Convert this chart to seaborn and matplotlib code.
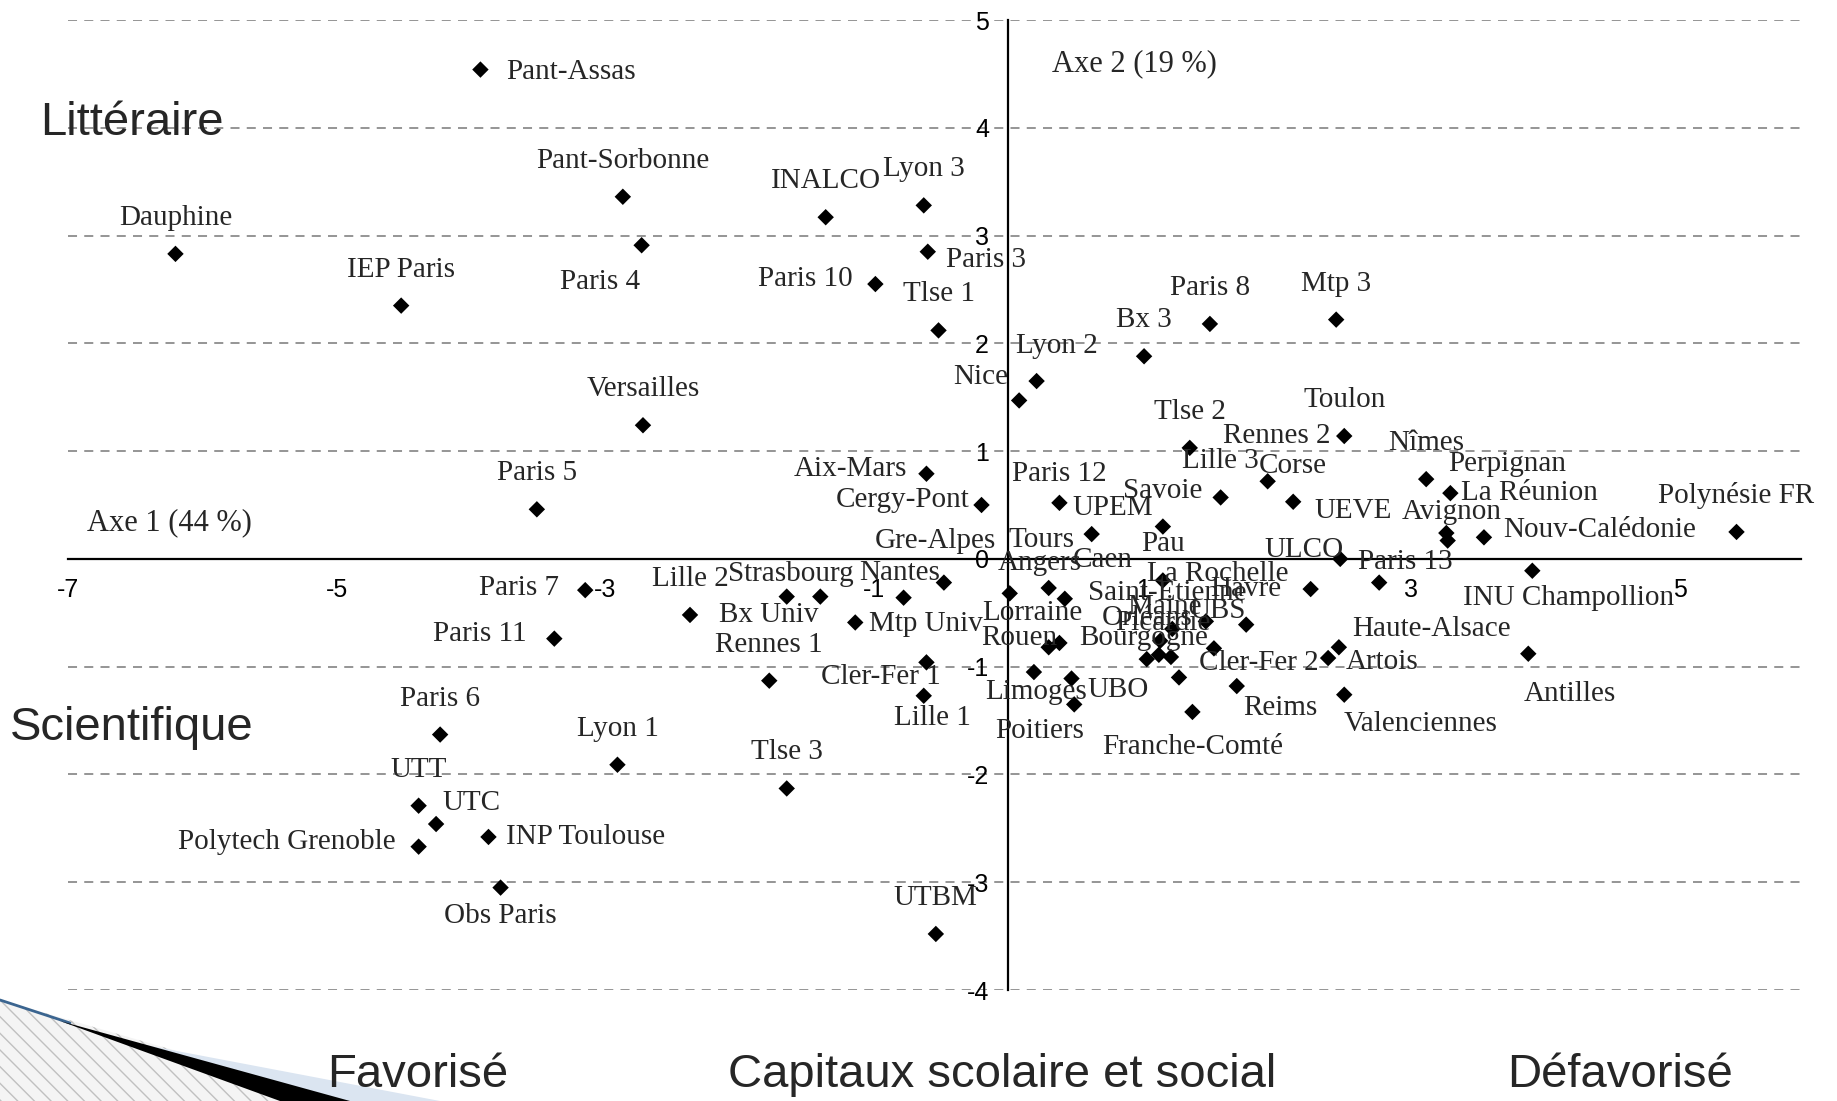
import matplotlib
matplotlib.use('Agg')
import matplotlib.pyplot as plt
import seaborn as sns
import pandas as pds
from matplotlib.patches import Polygon

sns.set_style('white')
plt.rcParams['font.family'] = ['Liberation Serif', 'DejaVu Serif']
plt.rcParams['axes.unicode_minus'] = False

# universities and their coordinates on the two factorial axes
names = ['Pant-Assas', 'Pant-Sorbonne', 'Dauphine', 'IEP Paris', 'Paris 4', 'INALCO', 'Lyon 3',
         'Paris 3', 'Paris 10', 'Tlse 1', 'Lyon 2', 'Nice', 'Bx 3', 'Paris 8', 'Mtp 3',
         'Versailles', 'Paris 5', 'Aix-Mars', 'Cergy-Pont', 'Tlse 2', 'Toulon', 'Rennes 2',
         'Lille 3', 'Corse', 'Paris 12', 'Savoie', 'UPEM', 'Nîmes', 'Perpignan', 'La Réunion',
         'Avignon', 'UEVE', 'Nouv-Calédonie', 'Polynésie FR', 'ULCO', 'Paris 13',
         'INU Champollion', 'Antilles', 'Haute-Alsace', 'Artois', 'Valenciennes', 'Reims',
         'Franche-Comté', 'Cler-Fer 2', 'Bourgogne', 'Orléans', 'Picardie', 'Maine', 'UBS',
         'Saint-Etienne', 'Havre', 'La Rochelle', 'Pau', 'Angers', 'Tours', 'Caen', 'Gre-Alpes',
         'Nantes', 'Strasbourg', 'Bx Univ', 'Lille 2', 'Mtp Univ', 'Rennes 1', 'Cler-Fer 1',
         'Lille 1', 'Lorraine', 'Rouen', 'Limoges', 'UBO', 'Poitiers', 'UTBM', 'Tlse 3',
         'Lyon 1', 'Paris 6', 'Paris 7', 'Paris 11', 'UTT', 'UTC', 'Polytech Grenoble',
         'INP Toulouse', 'Obs Paris']
axe1 = [-3.93, -2.87, -6.20, -4.52, -2.73, -1.36, -0.63,
        -0.60, -0.99, -0.52, 0.21, 0.08, 1.01, 1.50, 2.44,
        -2.72, -3.51, -0.61, -0.20, 1.35, 2.50, 1.93,
        1.58, 2.12, 0.38, 1.15, 0.62, 3.11, 3.29, 3.26,
        3.27, 2.47, 3.54, 5.42, 2.25, 2.76,
        3.90, 3.87, 2.46, 2.38, 2.50, 1.70,
        1.37, 1.21, 1.27, 1.03, 1.12, 1.13, 1.53,
        1.22, 1.77, 1.47, 1.15, 0.30, 0.01, 0.42, -0.48,
        -0.78, -1.65, -1.40, -2.37, -1.14, -1.78, -0.61,
        -0.63, 0.38, 0.30, 0.19, 0.47, 0.49, -0.54, -1.65,
        -2.91, -4.23, -3.15, -3.38, -4.39, -4.26, -4.39,
        -3.87, -3.78]
axe2 = [4.54, 3.36, 2.83, 2.35, 2.91, 3.17, 3.28,
        2.85, 2.55, 2.12, 1.65, 1.47, 1.88, 2.18, 2.22,
        1.24, 0.46, 0.79, 0.50, 1.03, 1.14, 0.72,
        0.57, 0.53, 0.52, 0.30, 0.23, 0.74, 0.61, 0.24,
        0.17, 0.00, 0.20, 0.25, -0.28, -0.22,
        -0.11, -0.88, -0.82, -0.92, -1.26, -1.18,
        -1.42, -0.91, -1.10, -0.93, -0.89, -0.76, -0.83,
        -0.65, -0.61, -0.58, -0.20, -0.27, -0.32, -0.37, -0.22,
        -0.36, -0.35, -0.35, -0.52, -0.59, -1.13, -0.96,
        -1.27, -0.78, -0.82, -1.05, -1.11, -1.35, -3.48, -2.13,
        -1.91, -1.63, -0.29, -0.74, -2.29, -2.46, -2.67,
        -2.58, -3.05]

# where each label sits relative to its point (pixels), default is just above
label_pos = {
    'Pant-Assas': (26, -2, 'left'), 'Paris 4': (-42, -37, 'center'),
    'Paris 3': (18, -8, 'left'), 'Paris 10': (-23, 5, 'right'),
    'Lyon 2': (20, 35, 'center'), 'Nice': (-11, 23, 'right'),
    'Aix-Mars': (-19, 5, 'right'), 'Cergy-Pont': (-12, 5, 'right'),
    'Rennes 2': (9, 45, 'center'), 'Paris 12': (0, 29, 'center'),
    'UPEM': (21, 26, 'center'), 'Perpignan': (57, 29, 'center'),
    'La Réunion': (83, 40, 'center'), 'Avignon': (4, 29, 'center'),
    'UEVE': (13, 48, 'center'), 'Nouv-Calédonie': (19, 7, 'left'),
    'ULCO': (-7, 39, 'center'), 'Paris 13': (26, 21, 'center'),
    'INU Champollion': (36, -27, 'center'), 'Antilles': (42, -40, 'center'),
    'Haute-Alsace': (93, 18, 'center'), 'Artois': (54, -4, 'center'),
    'Valenciennes': (76, -29, 'center'), 'Reims': (44, -22, 'center'),
    'Franche-Comté': (0, -35, 'center'), 'Cler-Fer 2': (88, -6, 'center'),
    'Bourgogne': (-35, 39, 'center'), 'Orléans': (0, 41, 'center'),
    'Picardie': (4, 32, 'center'), 'Maine': (4, 34, 'center'),
    'UBS': (4, 37, 'center'), 'Saint-Etienne': (-5, 36, 'center'),
    'La Rochelle': (12, 47, 'center'), 'Angers': (-9, 25, 'center'),
    'Tours': (32, 53, 'center'), 'Caen': (38, 39, 'center'),
    'Gre-Alpes': (-9, 42, 'center'), 'Nantes': (-4, 25, 'center'),
    'Strasbourg': (4, 23, 'center'), 'Bx Univ': (-52, -18, 'center'),
    'Mtp Univ': (14, -2, 'left'), 'Cler-Fer 1': (-46, -15, 'center'),
    'Lille 1': (9, -22, 'center'), 'Lorraine': (-27, 30, 'center'),
    'Rouen': (-29, 9, 'center'), 'Limoges': (2, -20, 'center'),
    'UBO': (16, -11, 'left'), 'Poitiers': (-35, -27, 'center'),
    'Obs Paris': (0, -28, 'center'), 'Paris 7': (-26, 2, 'right'),
    'Paris 11': (-28, 5, 'right'), 'UTC': (6, 21, 'left'),
    'Polytech Grenoble': (-23, 5, 'right'), 'INP Toulouse': (18, 0, 'left'),
}

df = pds.DataFrame({'etab': names, 'axe1': axe1, 'axe2': axe2})

W, H = 1837, 1101
fig = plt.figure(figsize=(W / 100, H / 100), dpi=100)
ax = fig.add_axes([68 / W, 1 - 990 / H, (1801 - 68) / W, (990 - 20) / H])

sns.scatterplot(data=df, x='axe1', y='axe2', marker='D', color='black', s=70,
                edgecolor='none', ax=ax, zorder=4)

ax.set_xlim(-7, 5.9)
ax.set_ylim(-4, 5)
ax.set_xticks([-7, -5, -3, -1, 1, 3, 5])
ax.set_yticks(range(-4, 6))
ax.set_xlabel('')
ax.set_ylabel('')

# axes crossing at zero
ax.spines['left'].set_position(('data', 0))
ax.spines['bottom'].set_position(('data', 0))
ax.spines['top'].set_visible(False)
ax.spines['right'].set_visible(False)
for s in ['left', 'bottom']:
    ax.spines[s].set_color('black')
    ax.spines[s].set_linewidth(1.6)
ax.tick_params(axis='both', direction='out', length=5, width=1.2, pad=9,
               labelsize=18, colors='black')
for lab in ax.get_xticklabels() + ax.get_yticklabels():
    lab.set_family('Liberation Sans')
ax.grid(axis='y', linestyle=(0, (5, 4)), color='#8c8c8c', linewidth=1.3)
ax.grid(axis='x', visible=False)
ax.set_axisbelow(True)

# point labels
for n, x, y in zip(names, axe1, axe2):
    dx, dy, ha = label_pos.get(n, (0, 36, 'center'))
    ax.annotate(n, (x, y), xytext=(dx, dy), textcoords='offset pixels',
                ha=ha, va='center', fontsize=21, zorder=5)

ax.text(0.0108, 0.482, 'Axe 1 (44 %)', transform=ax.transAxes, fontsize=22,
        ha='left', va='center')
ax.text(0.568, 0.955, 'Axe 2 (19 %)', transform=ax.transAxes, fontsize=22,
        ha='left', va='center')

# big side labels
big = dict(fontsize=34, family='Liberation Sans', va='center')
fig.text(132 / W, 1 - 123 / H, 'Littéraire', ha='center', **big)
fig.text(132 / W, 1 - 728 / H, 'Scientifique', ha='center', **big)
fig.text(418 / W, 1 - 1075 / H, 'Favorisé', ha='center', **big)
fig.text(1002 / W, 1 - 1075 / H, 'Capitaux scolaire et social', ha='center', **big)
fig.text(1620 / W, 1 - 1075 / H, 'Défavorisé', ha='center', **big)


# slide decoration in the bottom-left corner
def px(pts):
    return [(a / W, 1 - b / H) for a, b in pts]


fig.add_artist(Polygon(px([(0, 1000), (350, 1101), (0, 1101)]), closed=True,
                       transform=fig.transFigure, facecolor='#f4f4f4',
                       edgecolor='#c0c0c0', hatch='\\\\', linewidth=0, zorder=1))
fig.add_artist(Polygon(px([(140, 1044), (440, 1101), (340, 1101)]), closed=True,
                       transform=fig.transFigure, facecolor='#dbe5f1',
                       edgecolor='none', zorder=2))
fig.add_artist(Polygon(px([(60, 1021), (350, 1101), (280, 1101)]), closed=True,
                       transform=fig.transFigure, facecolor='black',
                       edgecolor='none', zorder=3))
fig.add_artist(plt.Line2D([0, 70 / W], [1 - 1000 / H, 1 - 1023 / H],
                          transform=fig.transFigure, color='#3b6590', linewidth=2))

fig.savefig('out.png', dpi=100)
